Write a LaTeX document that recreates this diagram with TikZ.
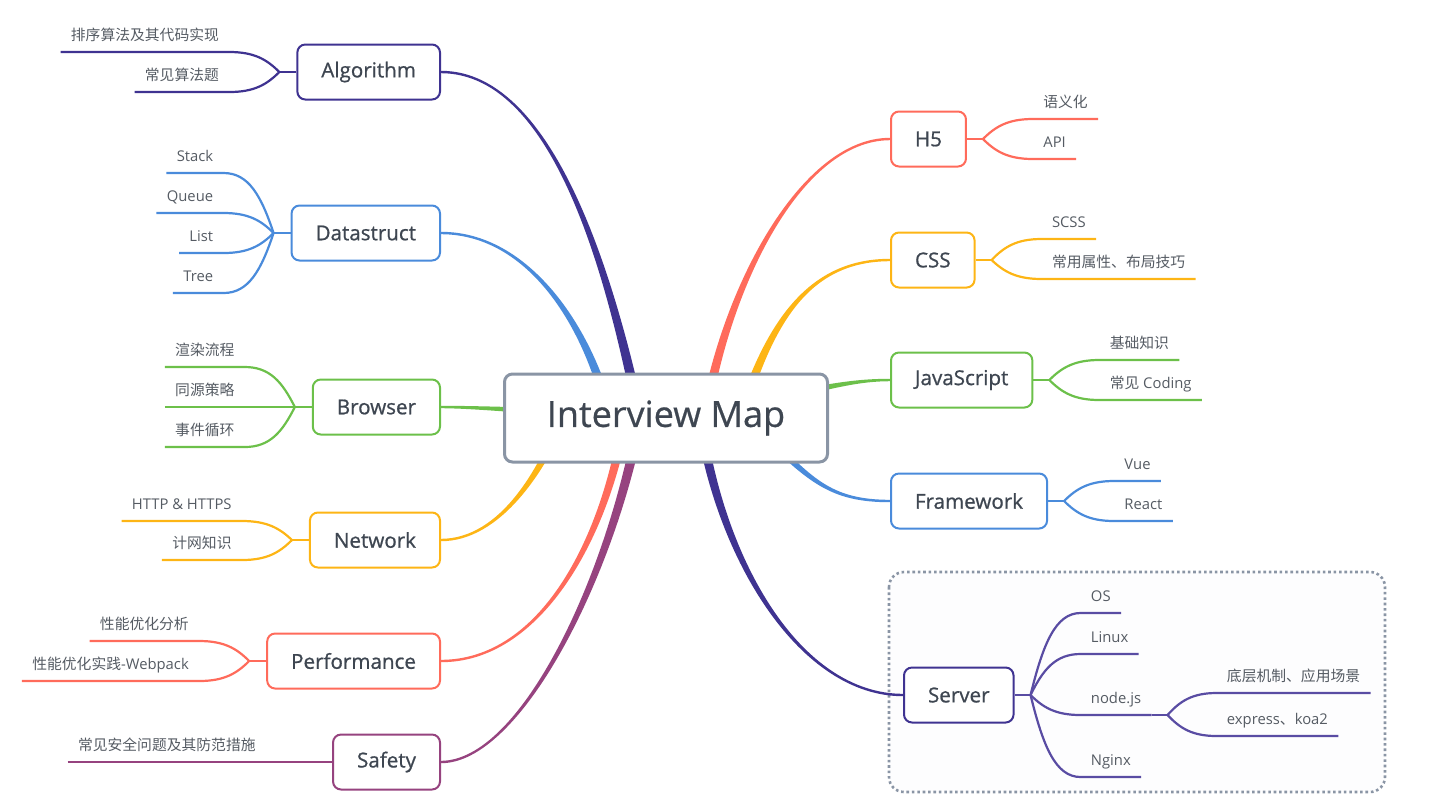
\documentclass[tikz,border=0pt]{standalone}
\usepackage{fontspec}
\setmainfont{Open Sans}
\newfontfamily\cjk{Noto Sans CJK SC}
\usepackage{tikz}
\usetikzlibrary{positioning, calc, backgrounds}

\definecolor{cAlg}{HTML}{3F3391}
\definecolor{cSrv}{HTML}{594CA3}
\definecolor{cBlue}{HTML}{4A8BDB}
\definecolor{cGreen}{HTML}{6CC04A}
\definecolor{cYellow}{HTML}{FDB515}
\definecolor{cRed}{HTML}{FF6B5B}
\definecolor{cPlum}{HTML}{96437F}
\definecolor{cGrey}{HTML}{8A95A5}
\definecolor{cInk}{HTML}{3E4651}
\definecolor{cLeaf}{HTML}{555B63}
\definecolor{cMist}{HTML}{FDFDFE}

% tapered main connector: colour, start shift from map, half width, controls, end
\newcommand{\limb}[6]{%
  \fill[#1] ($(map.center)+(#2)+(#3)$) .. controls ($(#4)+0.75*(#3)$) and ($(#5)+(0,1.3)$) .. ($(#6)+(0,1.2)$)
    -- ($(#6)-(0,1.2)$) .. controls ($(#5)-(0,1.3)$) and ($(#4)-0.75*(#3)$) .. ($(map.center)+(#2)-(#3)$) -- cycle;}
% thin connector from a fork to the underline of a leaf
\newcommand{\twig}[4]{%
  \draw[twig=#1] (#3.south west) -- (#3.south east)
    (#2) .. controls ($(#2)!.5!(#2 |- #3.south #4)!.25!(#3.south #4)$)
    and ($(#3.south #4)!.5!(#2 |- #3.south #4)$) .. (#3.south #4);}

\begin{document}
\begin{tikzpicture}[x=0.5pt, y=-0.5pt,
    root/.style={draw=cGrey, line width=1.5pt, rounded corners=4pt, fill=white, text=cInk,
      font=\fontsize{18}{22}\selectfont\addfontfeatures{FakeBold=0.6}, minimum width=161.5pt, minimum height=44pt},
    branch/.style={draw=#1, line width=1pt, rounded corners=4pt, fill=white, text=cInk,
      font=\fontsize{10.3}{12}\selectfont\addfontfeatures{FakeBold=0.8}, minimum height=27.5pt, inner xsep=12pt},
    leaf/.style={text=cLeaf, font=\fontsize{7.4}{9}\selectfont, inner xsep=5pt, inner ysep=4pt,
      text height=5.5pt, text depth=1.5pt},
    twig/.style={draw=#1, line width=1.1pt},
    region/.style={draw=cGrey, line width=1.3pt, dash pattern=on 1.3pt off 1.4pt,
      rounded corners=7.5pt, fill=cMist}]

  \useasboundingbox (0,0) rectangle (1435,811);

  % central topic
  \node[root] (map) at (666,418) {Interview Map};

  % main topics
  \foreach \n/\t/\c/\y in {alg/Algorithm/cAlg/72, ds/Datastruct/cBlue/233, br/Browser/cGreen/407,
      net/Network/cYellow/540, perf/Performance/cRed/661, safe/Safety/cPlum/762}
    \node[branch=\c, anchor=east] (\n) at (441,\y) {\t};
  \foreach \n/\t/\c/\x/\y in {h5/H5/cRed/890/139, css/CSS/cYellow/890/260, js/JavaScript/cGreen/890/380,
      fw/Framework/cBlue/890/501, srv/Server/cAlg/903/695}
    \node[branch=\c, anchor=west] (\n) at (\x,\y) {\t};

  % forks
  \foreach \n/\c in {alg/cAlg, ds/cBlue, br/cGreen, net/cYellow, perf/cRed} {
    \coordinate (\n-fork) at ($(\n.west)+(-17,0)$);
    \draw[twig=\c] (\n.west) -- (\n-fork);
  }
  \foreach \n/\c in {h5/cRed, css/cYellow, js/cGreen, fw/cBlue, srv/cSrv} {
    \coordinate (\n-fork) at ($(\n.east)+(16,0)$);
    \draw[twig=\c] (\n.east) -- (\n-fork);
  }

  % left leaves
  \foreach \t/\dy [count=\i] in {{\cjk 排序算法及其代码实现}/-20, {\cjk 常见算法题}/20} {
    \node[leaf, anchor=south east] (alg-\i) at ($(alg-fork)+(-50,\dy)$) {\t};
    \twig{cAlg}{alg-fork}{alg-\i}{east}
  }
  \foreach \t/\dy [count=\i] in {Stack/-60, Queue/-20, List/20, Tree/60} {
    \node[leaf, anchor=south east] (ds-\i) at ($(ds-fork)+(-50,\dy)$) {\t};
    \twig{cBlue}{ds-fork}{ds-\i}{east}
  }
  \foreach \t/\dy [count=\i] in {{\cjk 渲染流程}/-40, {\cjk 同源策略}/0, {\cjk 事件循环}/40} {
    \node[leaf, anchor=south east] (br-\i) at ($(br-fork)+(-50,\dy)$) {\t};
    \twig{cGreen}{br-fork}{br-\i}{east}
  }
  \foreach \t/\dy [count=\i] in {HTTP \& HTTPS/-19, {\cjk 计网知识}/20} {
    \node[leaf, anchor=south east] (net-\i) at ($(net-fork)+(-50,\dy)$) {\t};
    \twig{cYellow}{net-fork}{net-\i}{east}
  }
  \foreach \t/\dy [count=\i] in {{\cjk 性能优化分析}/-20, {\cjk 性能优化实践}-Webpack/20} {
    \node[leaf, anchor=south east] (perf-\i) at ($(perf-fork)+(-50,\dy)$) {\t};
    \twig{cRed}{perf-fork}{perf-\i}{east}
  }
  \node[leaf, anchor=south east] (safe-1) at ($(safe.west)+(-66,0)$) {\cjk 常见安全问题及其防范措施};
  \twig{cPlum}{safe.west}{safe-1}{east}

  % right leaves
  \foreach \t/\dy [count=\i] in {{\cjk 语义化}/-20, API/20} {
    \node[leaf, anchor=south west] (h5-\i) at ($(h5-fork)+(50,\dy)$) {\t};
    \twig{cRed}{h5-fork}{h5-\i}{west}
  }
  \foreach \t/\dy [count=\i] in {SCSS/-21, {\cjk 常用属性、布局技巧}/19} {
    \node[leaf, anchor=south west] (css-\i) at ($(css-fork)+(50,\dy)$) {\t};
    \twig{cYellow}{css-fork}{css-\i}{west}
  }
  \foreach \t/\dy [count=\i] in {{\cjk 基础知识}/-20, {\cjk 常见} Coding/20} {
    \node[leaf, anchor=south west] (js-\i) at ($(js-fork)+(50,\dy)$) {\t};
    \twig{cGreen}{js-fork}{js-\i}{west}
  }
  \foreach \t/\dy [count=\i] in {Vue/-20, React/20} {
    \node[leaf, anchor=south west] (fw-\i) at ($(fw-fork)+(50,\dy)$) {\t};
    \twig{cBlue}{fw-fork}{fw-\i}{west}
  }
  \foreach \t/\dy [count=\i] in {OS/-82, Linux/-41, node.js/20, Nginx/82} {
    \node[leaf, anchor=south west] (srv-\i) at ($(srv-fork)+(50,\dy)$) {\t};
    \twig{cSrv}{srv-fork}{srv-\i}{west}
  }
  \coordinate (njs-fork) at ($(srv-3.south west)+(87,0)$);
  \draw[twig=cSrv] (srv-3.south east) -- (njs-fork);
  \foreach \t/\dy [count=\i] in {{\cjk 底层机制、应用场景}/-22, express{\cjk 、}koa2/21} {
    \node[leaf, anchor=south west] (njs-\i) at ($(njs-fork)+(49,\dy)$) {\t};
    \twig{cSrv}{njs-fork}{njs-\i}{west}
  }

  % connectors under the topics
  \begin{scope}[on background layer]
    \draw[region] (889,572) rectangle (1385,792);
    \limb{cAlg}{-26,0}{-5.2,1}{615,300}{560,72}{alg.east}
    \limb{cBlue}{-56,0}{-4.8,1.1}{590,330}{530,233}{ds.east}
    \limb{cGreen}{-106,-6}{0,3.6}{520,410}{470,407}{br.east}
    \limb{cYellow}{-96,-18}{4.4,1.5}{545,470}{500,540}{net.east}
    \limb{cRed}{-41,0}{4.6,0.75}{605,540}{540,661}{perf.east}
    \limb{cPlum}{-26,0}{5,0.9}{610,580}{520,762}{safe.east}
    \limb{cRed}{39,0}{4.8,0.75}{725,290}{800,139}{h5.west}
    \limb{cYellow}{74,0}{4.6,1.4}{770,320}{810,260}{css.west}
    \limb{cGreen}{124,-23}{0.75,3.4}{835,385}{860,380}{js.west}
    \limb{cBlue}{94,12}{-2.6,2.6}{810,480}{830,501}{fw.west}
    \limb{cAlg}{34,0}{-4.8,0.7}{720,560}{800,695}{srv.west}
  \end{scope}

\end{tikzpicture}
\end{document}
